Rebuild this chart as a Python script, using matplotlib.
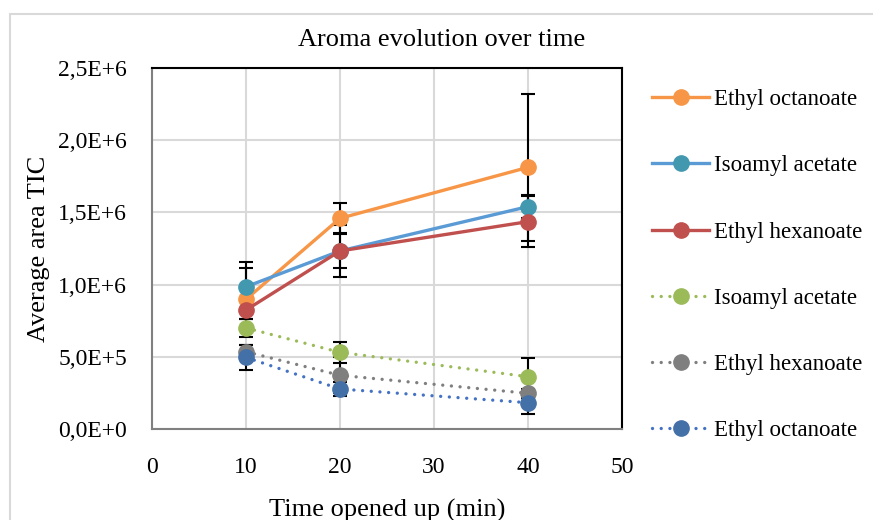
import numpy as np
import matplotlib
matplotlib.use("Agg")
from matplotlib import pyplot as plt
from matplotlib.patches import Rectangle

# data
times = [10, 20, 40]
names = ["Ethyl octanoate", "Isoamyl acetate", "Ethyl hexanoate",
         "Isoamyl acetate", "Ethyl hexanoate", "Ethyl octanoate"]
oct_solid = [0.898e6, 1.459e6, 1.812e6]
iso_solid = [0.985e6, 1.233e6, 1.540e6]
hex_solid = [0.824e6, 1.233e6, 1.436e6]
iso_dot = [0.700e6, 0.531e6, 0.362e6]
hex_dot = [0.535e6, 0.372e6, 0.247e6]
oct_dot = [0.496e6, 0.277e6, 0.182e6]
oct_solid_err = [0.215e6, 0.104e6, 0.510e6]
iso_solid_err = [0.174e6, 0.120e6, 0.080e6]
hex_solid_err = [0.060e6, 0.180e6, 0.175e6]
iso_dot_err = [0.060e6, 0.074e6, 0.130e6]
hex_dot_err = [0.045e6, 0.126e6, 0.030e6]
oct_dot_err = [0.087e6, 0.051e6, 0.080e6]

x_ticks = [0, 10, 20, 30, 40, 50]
y_ticks = [0, 0.5e6, 1.0e6, 1.5e6, 2.0e6, 2.5e6]
y_labels = ["0,0E+0", "5,0E+5", "1,0E+6", "1,5E+6", "2,0E+6", "2,5E+6"]

series = [oct_solid, iso_solid, hex_solid, iso_dot, hex_dot, oct_dot]
errs = [oct_solid_err, iso_solid_err, hex_solid_err, iso_dot_err, hex_dot_err, oct_dot_err]
line_cols = ["#F79646", "#5B9BD5", "#C0504D", "#9BBB59", "#7F7F7F", "#4472C4"]
mark_cols = ["#F79646", "#4198AF", "#C0504D", "#9BBB59", "#7F7F7F", "#4470A8"]
dotted = (0, (0.01, 2.6))
styles = ["-", "-", "-", dotted, dotted, dotted]

plt.rcParams['font.family'] = ['Liberation Serif', 'DejaVu Serif']

fig = plt.figure(figsize=(8.73, 5.2), dpi=100)
ax = fig.add_axes([152/873, 1-429/520, 470/873, 361/520])

for i in range(6):
    ax.errorbar(times, series[i], yerr=errs[i], fmt="none", ecolor="black",
                elinewidth=1.5, capsize=5, capthick=1.5, zorder=3)
for i in range(6):
    ax.plot(times, series[i], linestyle=styles[i], color=line_cols[i],
            lw=2.4, marker="o", markersize=11, markerfacecolor=mark_cols[i],
            markeredgecolor=mark_cols[i], label=names[i], zorder=4 + i,
            dash_capstyle="round")

ax.set_xlim(0, 50)
ax.set_ylim(0, 2.5e6)
ax.set_xticks(x_ticks)
ax.set_yticks(y_ticks)
ax.set_yticklabels(y_labels)
ax.tick_params(length=0, labelsize=17)
ax.tick_params(axis="x", pad=20)
ax.tick_params(axis="y", pad=18)
ax.grid(True, color="#d9d9d9", lw=1.5)
ax.set_axisbelow(True)
for s in ["top", "right"]:
    ax.spines[s].set_color("black")
    ax.spines[s].set_linewidth(1.5)
for s in ["left", "bottom"]:
    ax.spines[s].set_color("#808080")
    ax.spines[s].set_linewidth(1.5)

ax.set_xlabel("Time opened up (min)", fontsize=19, labelpad=15)
ax.set_ylabel("Average area TIC", fontsize=19, labelpad=6)
fig.text(442/873, 1-40/520, "Aroma evolution over time", fontsize=19,
         ha="center", va="center")

fig.legend(loc="upper left", bbox_to_anchor=(643/873, 1-80/520), frameon=False,
           fontsize=16.5, labelspacing=1.97, handlelength=2.5, handletextpad=0.2,
           borderaxespad=0)

fig.patches.append(Rectangle((10/873, -0.1), 1.2, 1.1 - 14/520, transform=fig.transFigure,
                             fill=False, edgecolor="#d9d9d9", lw=1.5))

fig.savefig("out.png", dpi=100)
